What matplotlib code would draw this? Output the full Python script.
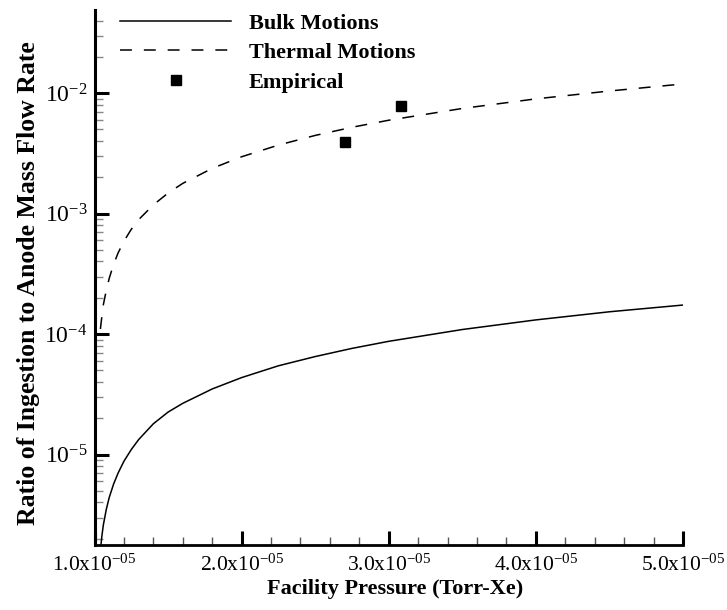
import math
import matplotlib
matplotlib.use("Agg")
import matplotlib.pyplot as plt
from matplotlib.ticker import FixedLocator, MultipleLocator, LogLocator, NullFormatter, FuncFormatter

plt.rcParams['font.family'] = ['Liberation Serif', 'DejaVu Serif']
plt.rcParams['mathtext.fontset'] = 'custom'
plt.rcParams['mathtext.rm'] = 'Liberation Serif'
plt.rcParams['mathtext.it'] = 'Liberation Serif:italic'
plt.rcParams['mathtext.bf'] = 'Liberation Serif:bold'

# values (pressure in Torr-Xe)
bulk_p = [1.04e-5, 1.05e-5, 1.06e-5, 1.08e-5, 1.10e-5, 1.13e-5, 1.16e-5, 1.20e-5, 1.25e-5,
          1.30e-5, 1.40e-5, 1.50e-5, 1.60e-5, 1.80e-5, 2.00e-5, 2.25e-5, 2.50e-5, 2.75e-5,
          3.00e-5, 3.50e-5, 4.00e-5, 4.50e-5, 5.00e-5]
bulk_ratio = [1.6e-6, 2.1e-6, 2.6e-6, 3.5e-6, 4.4e-6, 5.7e-6, 7.0e-6, 8.8e-6, 1.1e-5,
              1.33e-5, 1.8e-5, 2.25e-5, 2.66e-5, 3.5e-5, 4.35e-5, 5.45e-5, 6.5e-5, 7.6e-5,
              8.7e-5, 1.09e-4, 1.31e-4, 1.53e-4, 1.74e-4]

thermal_p = [1.04e-5, 1.05e-5, 1.06e-5, 1.08e-5, 1.10e-5, 1.13e-5, 1.16e-5, 1.20e-5, 1.25e-5,
             1.30e-5, 1.40e-5, 1.50e-5, 1.60e-5, 1.80e-5, 2.00e-5, 2.25e-5, 2.50e-5, 2.75e-5,
             3.00e-5, 3.50e-5, 4.00e-5, 4.50e-5, 5.00e-5]
thermal_ratio = [1.1e-4, 1.4e-4, 1.75e-4, 2.3e-4, 2.9e-4, 3.8e-4, 4.7e-4, 5.9e-4, 7.4e-4,
                 8.9e-4, 1.18e-3, 1.48e-3, 1.78e-3, 2.37e-3, 2.96e-3, 3.7e-3, 4.45e-3, 5.2e-3,
                 5.95e-3, 7.45e-3, 8.95e-3, 1.04e-2, 1.19e-2]

emp_p = [2.70e-5, 3.08e-5]
emp_ratio = [3.9e-3, 7.8e-3]

x_ticks = [1e-5, 2e-5, 3e-5, 4e-5, 5e-5]
x_tick_labels = ['1.0x10$^{-05}$', '2.0x10$^{-05}$', '3.0x10$^{-05}$', '4.0x10$^{-05}$', '5.0x10$^{-05}$']

fig = plt.figure(figsize=(7.27, 6.10), dpi=100)
ax = fig.add_axes([0.130, 0.1066, 0.8095, 0.877])

ax.plot(bulk_p, bulk_ratio, color='black', lw=1.1, label='Bulk Motions')
ax.plot(thermal_p, thermal_ratio, color='black', lw=1.1, dashes=(7.8, 7.8), label='Thermal Motions')
ax.plot(emp_p, emp_ratio, 's', color='black', ms=7.5, label='Empirical')

ax.set_yscale('log')
ax.set_xlim(1e-5, 5e-5)
ax.set_ylim(1.775e-6, 0.0489)

ax.xaxis.set_major_locator(FixedLocator(x_ticks))
ax.set_xticklabels(x_tick_labels)
ax.xaxis.set_minor_locator(MultipleLocator(2e-6))
ax.yaxis.set_major_locator(LogLocator(base=10, numticks=10))
ax.yaxis.set_minor_locator(LogLocator(base=10, subs=range(2, 10), numticks=20))
ax.yaxis.set_minor_formatter(NullFormatter())
ax.yaxis.set_major_formatter(FuncFormatter(lambda v, pos: '10$^{%d}$' % round(math.log10(v))))

ax.tick_params(which='major', direction='in', length=10, width=2.2)
ax.tick_params(axis='x', which='major', labelsize=15.5, pad=7)
ax.tick_params(axis='y', which='major', labelsize=17, pad=5)
ax.tick_params(which='minor', direction='in', length=6, width=1.0, color='#888888')
ax.tick_params(axis='x', which='minor', color='#555555')

for s in ['top', 'right']:
    ax.spines[s].set_visible(False)
ax.spines['left'].set_linewidth(2.2)
ax.spines['bottom'].set_linewidth(2.0)

ax.set_xlabel('Facility Pressure (Torr-Xe)', fontsize=16, fontweight='bold')
ax.set_ylabel('Ratio of Ingestion to Anode Mass Flow Rate', fontsize=18.5, fontweight='bold')
ax.xaxis.set_label_coords(0.51, -0.064)
ax.yaxis.set_label_coords(-0.093, 0.49)

leg = ax.legend(loc='upper left', bbox_to_anchor=(0.0433, 0.994), frameon=False,
                handlelength=5.0, handletextpad=0.8, labelspacing=0.4, borderpad=0,
                borderaxespad=0, prop={'weight': 'bold', 'size': 16})

fig.savefig('out.png', dpi=100)
